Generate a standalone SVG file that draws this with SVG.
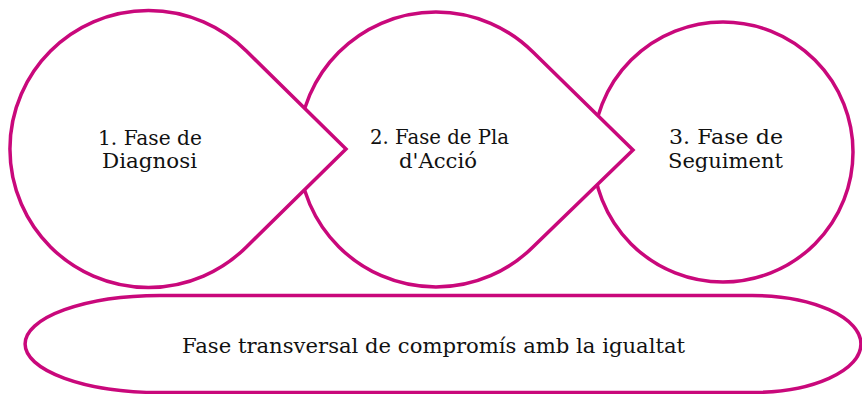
<svg xmlns="http://www.w3.org/2000/svg" width="862" height="394" viewBox="0 0 862 394">
  <style>
    .shape { fill: #ffffff; stroke: #C9087B; stroke-width: 3.5; stroke-linejoin: miter; }
    .lbl { font-family: "DejaVu Serif", "Liberation Serif", serif; font-size: 21px; fill: #111111; text-anchor: middle; }
  </style>
  <rect width="862" height="394" fill="#ffffff"/>
  <g id="node-transversal">
    <path class="shape" d="M160,295.5 H752 A109,48.5 0 0 1 752,392.5 H160 A135,48.5 0 0 1 160,295.5 Z"/>
    <text class="lbl" x="433.5" y="353" textLength="503" lengthAdjust="spacingAndGlyphs">Fase transversal de compromís amb la igualtat</text>
  </g>
  <g id="node-seguiment">
    <circle class="shape" cx="723" cy="152" r="130"/>
    <text class="lbl" x="726" y="144" textLength="114" lengthAdjust="spacingAndGlyphs">3. Fase  de</text>
    <text class="lbl" x="725.5" y="168" textLength="115" lengthAdjust="spacingAndGlyphs">Seguiment</text>
  </g>
  <g id="node-pla-accio">
    <path class="shape" d="M533.2,52.3 L633,150 L533.2,246.7 A137.5,137.5 0 1 1 533.2,52.3 Z"/>
    <text class="lbl" x="439.5" y="144" textLength="139" lengthAdjust="spacingAndGlyphs">2. Fase de Pla</text>
    <text class="lbl" x="438" y="168" textLength="78" lengthAdjust="spacingAndGlyphs">d'Acció</text>
  </g>
  <g id="node-diagnosi">
    <path class="shape" d="M246.4,51.1 L346,149 L246.4,246.9 A138.5,138.5 0 1 1 246.4,51.1 Z"/>
    <text class="lbl" x="150" y="145" textLength="104" lengthAdjust="spacingAndGlyphs">1. Fase de</text>
    <text class="lbl" x="149.5" y="168" textLength="95" lengthAdjust="spacingAndGlyphs">Diagnosi</text>
  </g>
  <g id="connectors"></g>
</svg>
